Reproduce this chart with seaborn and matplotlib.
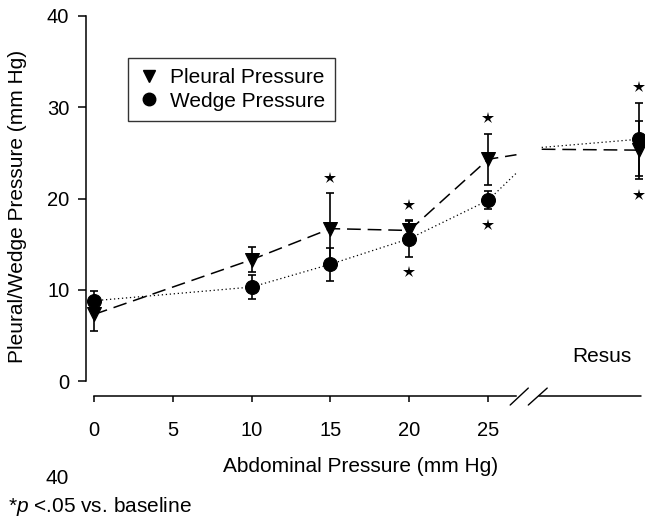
import matplotlib
matplotlib.use("Agg")
import matplotlib.pyplot as plt
import seaborn as sns
import pandas as pd
from matplotlib.lines import Line2D

# ---- data ----
x_labels = ["0", "5", "10", "15", "20", "25"]
x_ticks = [0, 5, 10, 15, 20, 25]
x_pos = [0, 10, 15, 20, 25, 34.6]          # last = Resus
pleural = [7.3, 13.3, 16.7, 16.5, 24.3, 25.3]
pleural_sd = [1.8, 1.4, 3.9, 1.0, 2.8, 3.2]
wedge = [8.8, 10.3, 12.8, 15.6, 19.8, 26.5]
wedge_sd = [1.1, 1.3, 1.8, 2.0, 1.0, 4.0]
star_above = [0, 0, 1, 1, 1, 1]
star_below = [0, 0, 0, 1, 1, 1]
# line ends either side of the axis break
break_x = [26.8, 28.4]
pleural_break = [24.8, 25.4]
wedge_break = [22.8, 25.6]

sns.set_style("ticks")
plt.rcParams['font.family'] = ['Liberation Sans', 'DejaVu Sans']
plt.rcParams['mathtext.fontset'] = 'custom'
plt.rcParams['mathtext.it'] = 'Liberation Sans:italic'
plt.rcParams['mathtext.rm'] = 'Liberation Sans'
plt.rcParams['text.color'] = 'black'
plt.rcParams['axes.labelcolor'] = 'black'
plt.rcParams['axes.edgecolor'] = 'black'

FS = 15
fig = plt.figure(figsize=(6.45, 5.2), dpi=100)
ax = fig.add_axes([86/645, 1-396/520, (641-86)/645, (396-16)/520])
ax.set_xlim(-0.51, 34.7)
ax.set_ylim(-1.64, 40)

lw = 1.1
dash = (0, (9, 4.5))
dot = (0, (1, 2.2))
# lines
px = x_pos[:5] + [break_x[0]]
py = pleural[:5] + [pleural_break[0]]
sns.lineplot(x=px, y=py, ax=ax, sort=False, color='black', lw=lw,
             linestyle=dash, estimator=None)
sns.lineplot(x=[break_x[1], x_pos[5]], y=[pleural_break[1], pleural[5]], ax=ax,
             sort=False, color='black', lw=lw, linestyle=dash, estimator=None)
wx = x_pos[:5] + [break_x[0]]
wy = wedge[:5] + [wedge_break[0]]
sns.lineplot(x=wx, y=wy, ax=ax, sort=False, color='black', lw=0.9,
             linestyle=dot, estimator=None)
sns.lineplot(x=[break_x[1], x_pos[5]], y=[wedge_break[1], wedge[5]], ax=ax,
             sort=False, color='black', lw=0.9, linestyle=dot, estimator=None)

# error bars
ax.errorbar(x_pos, pleural, yerr=pleural_sd, fmt='none', ecolor='black',
            elinewidth=1.2, capsize=3, capthick=1.2, clip_on=False, zorder=3)
ax.errorbar(x_pos, wedge, yerr=wedge_sd, fmt='none', ecolor='black',
            elinewidth=1.2, capsize=3, capthick=1.2, clip_on=False, zorder=3)

# markers
sns.scatterplot(x=x_pos, y=pleural, ax=ax, marker='v', s=100, color='black',
                edgecolor='black', zorder=5, clip_on=False)
sns.scatterplot(x=x_pos, y=wedge, ax=ax, marker='o', s=100, color='black',
                edgecolor='black', zorder=5, clip_on=False)

# significance stars
for i, x in enumerate(x_pos):
    top = max(pleural[i] + pleural_sd[i], wedge[i] + wedge_sd[i])
    bot = min(pleural[i] - pleural_sd[i], wedge[i] - wedge_sd[i])
    if star_above[i]:
        ax.plot(x, top + 1.7, marker='*', color='black', ms=9, mew=0, clip_on=False)
    if star_below[i]:
        ax.plot(x, bot - 1.7, marker='*', color='black', ms=9, mew=0, clip_on=False)

# axes styling
for s in ['top', 'right']:
    ax.spines[s].set_visible(False)
ax.spines['left'].set_bounds(0, 40)
ax.spines['bottom'].set_bounds(0, break_x[0])
ax.spines['left'].set_linewidth(1.1)
ax.spines['bottom'].set_linewidth(1.1)
ax.plot([break_x[1] - 0.2, 34.7], [-1.64, -1.64], color='black', lw=1.1, clip_on=False)
# break slashes
ax.plot([26.4, 27.55], [-2.63, -0.77], color='black', lw=1.0, clip_on=False)
ax.plot([27.55, 28.75], [-2.63, -0.77], color='black', lw=1.0, clip_on=False)

ax.set_yticks([0, 10, 20, 30, 40])
ax.set_yticklabels(["0", "10", "20", "30", "40"])
ax.set_xticks(x_ticks)
ax.set_xticklabels(x_labels)
ax.tick_params(axis='y', direction='out', length=6, width=1.1, pad=6, labelsize=14.5,
               colors='black', labelcolor='black')
ax.tick_params(axis='x', direction='out', length=4, width=1.1, pad=14, labelsize=14.5,
               colors='black', labelcolor='black')
ax.set_xlabel("")
ax.set_ylabel("")

fig.text(18/645, 1-206/520, "Pleural/Wedge Pressure (mm Hg)", rotation=90,
         ha='center', va='center', fontsize=FS, color='black')
fig.text(361/645, 1-467/520, "Abdominal Pressure (mm Hg)", ha='center', va='center',
         fontsize=FS, color='black')
fig.text(572/645, 1-357/520, "Resus", ha='left', va='center', fontsize=FS, color='black')
fig.text(45/645, 1-478/520, "40", ha='left', va='center', fontsize=FS, color='black')
fig.text(8/645, 1-507/520, r"*$\it{p}$ <.05 vs. baseline", ha='left', va='center',
         fontsize=FS, color='black')

handles = [Line2D([], [], marker='v', color='black', ls='none', ms=9),
           Line2D([], [], marker='o', color='black', ls='none', ms=9)]
leg = ax.legend(handles, ["Pleural Pressure", "Wedge Pressure"],
                loc='upper left', bbox_to_anchor=(128/645, 1-58/520),
                bbox_transform=fig.transFigure, frameon=True, fancybox=False,
                edgecolor='black', fontsize=FS, handletextpad=0.5,
                borderpad=0.5, labelspacing=0.2, handlelength=1.0,
                borderaxespad=0)
leg.get_frame().set_linewidth(1.0)
for t in leg.get_texts():
    t.set_color('black')

fig.savefig("out.png", dpi=100)
